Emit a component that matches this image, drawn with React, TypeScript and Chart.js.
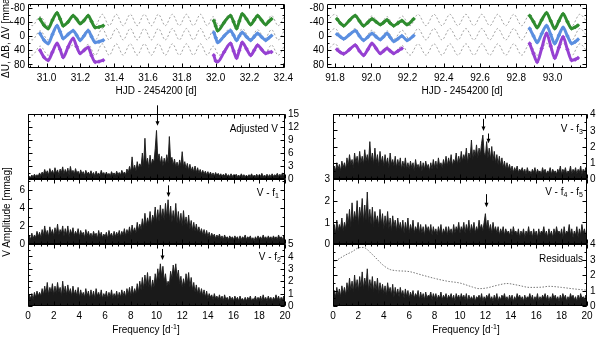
import React, { useEffect, useRef } from "react";
import { Chart, registerables } from "chart.js";
Chart.register(...registerables);

const FONT_FAMILY = '"Liberation Sans", Arial, Helvetica, sans-serif';

// ---------- light curves (HJD - 2454200, mmag) ----------
const TL_SEG1_T = [30.961, 30.985, 31.009, 31.035, 31.062, 31.08, 31.098, 31.128, 31.157, 31.178, 31.198, 31.222, 31.246, 31.266, 31.287, 31.31, 31.335];
const TL_SEG1_V = [-48, -30, -21, -45, -65, -48, -29, -40, -57, -47, -35, -44, -57, -41, -24, -25, -29];
const TL_SEG1_B = [-7, 12, 21, -5, -29, -12, 7, -5, -15, -2, 12, -1, -15, 2, 18, 16, 12];
const TL_SEG1_U = [40, 60, 68, 45, 21, 38, 60, 30, 7, 30, 49, 40, 32, 55, 73, 72, 68];
const TL_SEG2_T = [31.989, 32.0, 32.012, 32.05, 32.088, 32.106, 32.124, 32.14, 32.157, 32.182, 32.207, 32.228, 32.248, 32.272, 32.296, 32.313, 32.33];
const TL_SEG2_V = [-43, -28, -15, -38, -57, -40, -21, -42, -62, -48, -32, -45, -57, -44, -32, -40, -48];
const TL_SEG2_B = [-10, 5, 18, 0, -15, -2, 12, 0, -10, 2, 12, 2, -7, 3, 12, 6, -1];
const TL_SEG2_U = [54, 70, 72, 45, 21, 42, 62, 40, 18, 36, 54, 40, 26, 38, 49, 46, 45];

const TR_SEG1_T = [91.811, 91.83, 91.848, 91.88, 91.912, 91.935, 91.958, 91.981, 92.004, 92.027, 92.05, 92.068, 92.087, 92.105, 92.124, 92.147, 92.169, 92.197, 92.234];
const TR_SEG1_V = [-48, -36, -29, -44, -57, -42, -29, -38, -48, -40, -32, -38, -45, -36, -29, -36, -43, -32, -48];
const TR_SEG1_B = [-5, 2, 8, -4, -15, 0, 12, 3, -7, 2, 10, 2, -7, 4, 15, 8, 0, 12, -1];
const TR_SEG1_U = [38, 46, 50, 38, 26, 42, 54, 38, 21, 35, 49, 42, 35, 42, 49, 42, 35];
const TR_SEG2_T = [92.874, 92.895, 92.915, 92.94, 92.967, 92.99, 93.012, 93.035, 93.058, 93.082, 93.105, 93.125, 93.14];
const TR_SEG2_V = [-57, -40, -24, -45, -65, -42, -21, -42, -62, -40, -21, -25, -30];
const TR_SEG2_B = [-21, 0, 18, -6, -29, -4, 21, -2, -24, 0, 21, 16, 10];
const TR_SEG2_U = [21, 50, 73, 35, -7, 28, 62, 32, 3, 38, 68, 66, 62];

// model (grey dashed) curve: extrema, normalised
const TL_MODEL_T = [30.89, 30.915, 30.962, 31.009, 31.062, 31.1, 31.157, 31.198, 31.246, 31.288,
  31.329, 31.37, 31.412, 31.453, 31.495, 31.536, 31.578, 31.62, 31.661, 31.702,
  31.744, 31.785, 31.827, 31.868, 31.91, 31.95, 31.985, 32.02, 32.085, 32.122,
  32.157, 32.205, 32.248, 32.29, 32.33, 32.37, 32.41];
const TL_MODEL_V = [0.6, 1, -0.6, 1, -1, 0.8, -0.8, 0.7, -0.9, 1,
  -1, 1, -1, 1, -1, 1, -1, 1, -1, 1,
  -1, 1, -1, 1, -1, 1, -0.6, 1, -1, 1,
  -1, 0.8, -0.8, 0.8, -0.8, 1, -0.9];
const TR_MODEL_T = [91.756, 91.8, 91.848, 91.912, 91.958, 92.004, 92.05, 92.087, 92.124, 92.17,
  92.214, 92.258, 92.302, 92.346, 92.39, 92.434, 92.478, 92.522, 92.566, 92.61,
  92.654, 92.698, 92.742, 92.786, 92.83, 92.874, 92.915, 92.967, 93.012, 93.058,
  93.105, 93.15, 93.19];
const TR_MODEL_V = [0.2, -1, 1, -1, 1, -0.7, 0.8, -0.6, 0.9, -0.7,
  1, -1, 1, -1, 1, -1, 1, -1, 1, -1,
  1, -1, 1, -1, 1, -1, 1, -1.1, 1.1, -1.1,
  1.1, -1, 0.3];
const MODEL_AMP = 16;
const MODEL_OFFSET_V = -45;
const MODEL_OFFSET_B = -5;
const MODEL_OFFSET_U = 38;

// ---------- amplitude spectra (mmag), frequency step 0.1 d^-1 from 0 to 20 ----------
const FREQ_STEP = 0.1;
const AMP_ADJUSTED_V = [
  0.3,0.6,0.4,0.9,0.5,1.1,0.6,1.0,0.7,1.4,
  0.8,1.6,1.0,2.2,1.2,1.9,0.9,2.4,1.3,2.0,
  1.1,2.6,1.4,2.1,1.0,2.3,1.5,2.8,1.2,2.2,
  1.3,2.5,1.0,2.9,1.4,2.0,1.1,2.4,1.3,1.8,
  0.9,2.1,1.2,1.7,0.8,2.0,1.1,1.6,0.9,1.9,
  1.0,1.5,0.7,1.8,1.0,1.4,0.8,2.0,1.1,1.5,
  0.8,1.6,0.9,1.3,0.7,1.7,1.0,1.4,0.8,1.8,
  1.0,1.5,0.9,2.0,1.2,1.6,1.0,2.3,1.4,2.9,
  1.6,5.1,2.0,3.2,1.8,4.0,2.4,3.5,2.8,6.0,
  3.0,9.4,3.5,4.8,2.6,5.5,3.2,4.6,3.8,7.0,
  11.2,4.5,5.8,3.5,5.2,3.0,4.8,3.4,5.6,3.8,
  9.8,4.2,5.0,3.2,4.6,2.8,3.9,2.6,4.4,3.0,
  6.3,2.8,4.0,2.4,3.6,2.0,3.4,1.9,2.8,1.6,
  3.0,1.5,2.6,1.4,2.2,1.2,2.0,1.1,1.8,1.0,
  1.7,0.9,1.6,0.8,1.4,0.7,1.5,0.8,1.3,0.7,
  1.2,0.6,1.1,0.7,1.3,0.6,1.0,0.5,1.2,0.6,
  1.0,0.5,1.1,0.6,0.9,0.5,1.2,0.6,1.0,0.5,
  0.9,0.5,1.0,0.6,1.2,0.5,0.9,0.6,1.1,0.5,
  1.0,0.6,1.3,0.5,0.9,0.6,1.1,0.5,1.0,0.6,
  1.2,0.6,1.0,0.7,1.3,0.6,1.1,0.7,1.4,0.8,
  1.0];
const AMP_MINUS_F1 = [
  0.4,0.9,0.5,1.2,0.6,1.0,0.7,1.4,0.8,1.3,
  0.7,1.6,0.9,2.0,1.0,1.5,0.8,1.9,1.1,1.6,
  0.9,1.8,1.1,2.2,1.0,1.6,1.2,2.0,0.9,1.7,
  1.0,2.0,0.8,1.6,1.1,1.8,0.9,1.4,1.0,1.7,
  0.8,1.5,1.0,1.3,0.7,1.6,0.9,1.4,0.8,1.2,
  0.7,1.4,0.9,1.2,0.6,1.5,0.8,1.3,0.7,1.1,
  0.8,1.3,0.6,1.5,0.9,1.2,0.7,1.4,0.8,1.3,
  0.9,1.5,0.8,1.4,1.0,1.7,0.9,1.6,1.1,1.9,
  1.0,2.1,1.3,1.8,1.2,2.4,1.5,2.2,1.6,2.8,
  1.8,3.4,2.0,2.9,2.2,3.6,2.1,3.2,2.6,4.1,
  2.4,3.8,2.5,4.3,2.8,3.9,2.6,4.5,2.9,4.9,
  2.7,4.2,2.4,3.7,2.6,4.5,2.3,3.6,2.2,3.4,
  2.0,3.7,2.1,3.0,1.9,3.2,1.7,2.6,1.5,2.4,
  1.4,2.2,1.3,1.9,1.2,1.7,1.0,1.6,0.9,1.5,
  0.8,1.3,0.7,1.2,0.8,1.1,0.6,1.0,0.7,1.1,
  0.6,0.9,0.5,1.0,0.6,0.8,0.5,0.9,0.6,0.8,
  0.5,0.9,0.6,0.8,0.4,0.9,0.5,0.8,0.6,1.0,
  0.5,0.8,0.6,0.9,0.5,0.7,0.4,0.8,0.5,0.9,
  0.6,0.8,0.5,1.0,0.6,0.8,0.5,0.9,0.6,0.8,
  0.5,0.9,0.6,0.8,0.5,1.0,0.6,0.8,0.5,0.9,
  0.6];
const AMP_MINUS_F2 = [
  0.5,0.9,0.6,1.0,0.5,1.1,0.7,1.2,0.8,1.1,
  0.8,1.4,0.9,1.6,1.0,1.9,0.9,1.5,1.1,1.8,
  0.9,1.6,1.0,1.9,1.1,1.5,0.8,2.0,1.0,1.6,
  0.9,1.7,1.0,1.4,0.8,1.6,0.9,1.3,0.8,1.5,
  0.7,1.3,0.8,1.1,0.7,1.4,0.8,1.2,0.6,1.3,
  0.7,1.2,0.6,1.4,0.8,1.1,0.7,1.3,0.6,1.0,
  0.7,1.2,0.6,1.1,0.7,1.3,0.6,1.0,0.7,1.2,
  0.6,1.1,0.7,1.3,0.8,1.2,0.7,1.4,0.9,1.5,
  0.8,1.6,0.9,1.4,1.0,1.8,1.1,2.0,1.3,2.3,
  1.4,2.5,1.6,2.7,1.5,2.4,1.3,2.1,1.5,2.6,
  1.9,3.0,2.2,3.4,2.4,3.2,2.0,2.6,1.6,2.0,
  1.7,2.8,2.2,3.3,2.6,3.4,2.3,2.9,1.8,2.4,
  1.5,2.2,1.6,2.6,1.8,2.7,1.5,2.3,1.3,1.9,
  1.1,1.7,1.0,1.5,0.9,1.4,0.8,1.3,0.7,1.2,
  0.6,1.0,0.7,0.9,0.5,1.0,0.6,0.8,0.5,0.9,
  0.5,0.8,0.4,0.9,0.5,0.7,0.4,0.8,0.5,0.7,
  0.4,0.8,0.5,0.7,0.4,0.8,0.5,0.6,0.4,0.7,
  0.4,0.7,0.5,0.8,0.4,0.6,0.5,0.8,0.4,0.7,
  0.5,0.8,0.4,0.9,0.5,0.7,0.4,0.8,0.5,0.7,
  0.4,0.7,0.5,0.9,0.5,0.8,0.4,0.7,0.5,0.8,
  0.5];
const AMP_MINUS_F3 = [
  0.4,0.8,0.5,1.0,0.6,0.9,0.5,1.1,0.7,1.0,
  0.6,1.3,0.8,1.5,0.9,1.2,0.7,1.6,1.0,1.4,
  0.8,1.7,1.0,1.4,0.9,1.8,1.1,1.5,1.0,2.3,
  1.1,1.6,0.9,1.9,1.0,1.5,0.8,1.7,1.0,1.4,
  0.8,1.5,0.9,1.3,0.7,1.6,0.9,1.2,0.8,1.4,
  0.7,1.2,0.8,1.3,0.6,1.1,0.7,1.3,0.6,1.0,
  0.6,1.1,0.7,1.0,0.5,1.2,0.7,0.9,0.6,1.1,
  0.5,1.0,0.6,1.1,0.7,0.9,0.5,1.0,0.6,1.2,
  0.7,1.1,0.6,1.3,0.8,1.0,0.7,1.2,0.8,1.4,
  0.8,1.3,0.9,1.5,0.8,1.2,1.0,1.6,0.9,1.4,
  1.0,1.7,1.1,1.5,1.2,1.9,1.0,1.6,1.3,2.4,
  1.2,1.8,1.4,2.1,1.3,1.9,1.5,2.2,2.7,1.6,
  1.4,2.3,1.3,1.9,1.2,2.0,1.1,1.7,1.0,1.5,
  0.9,1.4,0.8,1.3,0.7,1.1,0.6,1.0,0.6,0.9,
  0.5,0.8,0.4,0.7,0.5,0.8,0.4,0.6,0.5,0.7,
  0.4,0.6,0.3,0.7,0.4,0.5,0.3,0.6,0.4,0.7,
  0.3,0.6,0.4,0.5,0.3,0.7,0.4,0.6,0.3,0.5,
  0.4,0.7,0.3,0.6,0.4,0.5,0.3,0.6,0.4,0.8,
  0.3,0.6,0.4,0.7,0.3,0.5,0.4,0.8,0.3,0.6,
  0.4,0.7,0.3,0.6,0.4,0.8,0.3,0.6,0.4,0.7,
  0.4];
const AMP_MINUS_F4_F5 = [
  0.4,0.9,0.5,1.1,0.6,0.9,0.7,1.2,0.6,1.0,
  0.7,1.4,0.9,1.6,0.8,1.9,1.0,1.5,1.1,2.0,
  0.9,1.7,1.2,2.1,1.0,1.8,1.1,2.4,1.0,1.6,
  0.9,1.7,0.8,1.5,1.0,1.3,0.8,1.6,0.9,1.4,
  0.7,1.3,0.8,1.5,0.7,1.2,0.6,1.3,0.8,1.1,
  0.6,1.2,0.7,1.0,0.6,1.1,0.5,1.0,0.6,1.2,
  0.5,0.9,0.6,1.1,0.5,0.8,0.6,1.0,0.5,0.9,
  0.5,0.8,0.4,0.9,0.6,0.8,0.5,0.9,0.4,0.8,
  0.5,0.7,0.4,0.8,0.5,0.9,0.4,0.7,0.5,0.8,
  0.4,0.8,0.5,0.7,0.4,0.9,0.5,0.8,0.6,1.0,
  0.5,0.8,0.6,1.0,0.5,0.9,0.6,1.1,0.5,0.9,
  0.6,1.0,0.5,0.8,0.6,1.1,0.7,0.9,0.6,1.0,
  1.4,0.7,1.1,0.6,0.9,0.5,1.0,0.6,0.8,0.5,
  0.8,0.4,0.7,0.5,0.8,0.4,0.7,0.5,0.6,0.4,
  0.7,0.4,0.8,0.5,0.6,0.4,0.7,0.3,0.6,0.4,
  0.7,0.3,0.6,0.4,0.8,0.4,0.6,0.3,0.7,0.4,
  0.6,0.3,0.7,0.4,0.6,0.5,0.8,0.4,0.6,0.3,
  0.7,0.4,0.6,0.3,0.7,0.4,0.8,0.5,0.6,0.4,
  0.7,0.3,0.8,0.4,0.6,0.5,0.9,0.4,0.7,0.3,
  0.6,0.4,0.8,0.3,0.7,0.4,0.9,0.5,0.7,0.4,
  0.6];
const AMP_RESIDUALS = [
  0.5,1.0,0.6,1.2,0.7,1.1,0.6,1.3,0.8,1.2,
  0.7,1.5,0.9,1.8,1.0,1.6,0.9,2.0,1.1,1.7,
  1.0,1.9,1.2,2.2,1.1,1.8,1.3,2.4,1.0,1.7,
  1.1,1.9,0.9,1.6,1.0,1.8,0.8,1.5,0.9,1.4,
  0.8,1.3,0.7,1.5,0.9,1.2,0.7,1.4,0.6,1.2,
  0.7,1.1,0.6,1.2,0.7,1.0,0.5,1.1,0.6,1.0,
  0.5,0.9,0.6,1.0,0.5,0.8,0.6,1.0,0.4,0.9,
  0.5,0.8,0.4,0.9,0.5,0.7,0.6,0.9,0.4,0.8,
  0.5,0.8,0.4,0.7,0.5,0.9,0.4,0.7,0.5,0.8,
  0.4,0.7,0.5,0.8,0.4,0.7,0.3,0.8,0.5,0.7,
  0.4,0.8,0.5,0.7,0.4,0.8,0.3,0.7,0.4,0.6,
  0.4,0.7,0.3,0.6,0.5,0.7,0.4,0.8,0.3,0.6,
  0.4,0.7,0.5,0.8,0.4,0.6,0.3,0.7,0.4,0.8,
  0.3,0.6,0.4,0.7,0.5,0.8,0.4,0.6,0.3,0.7,
  0.4,0.7,0.3,0.6,0.4,0.8,0.5,0.7,0.4,0.6,
  0.3,0.7,0.4,0.6,0.5,0.8,0.4,0.7,0.3,0.6,
  0.4,0.8,0.3,0.6,0.4,0.7,0.5,0.8,0.4,0.7,
  0.3,0.6,0.4,0.8,0.5,0.7,0.4,0.6,0.3,0.7,
  0.4,0.8,0.5,0.7,0.3,0.6,0.4,0.8,0.5,0.7,
  0.4,0.6,0.3,0.7,0.4,0.8,0.5,0.6,0.4,0.7,
  0.5];
// significance (dotted) curve in the residual panel
const SIG_F = [0, 1, 1.5, 2, 2.4, 3, 4, 4.5, 5, 6, 7, 8, 9, 10, 11, 11.5, 12, 13, 13.7, 14.5, 15.5, 16.5, 17, 18, 19, 20];
const SIG_A = [2.8, 3.3, 3.5, 3.75, 3.78, 3.4, 2.6, 2.35, 2.28, 2.22, 2.0, 1.78, 1.6, 1.48, 1.22, 1.12, 1.15, 1.35, 1.45, 1.35, 1.2, 1.22, 1.27, 1.2, 1.1, 1.02];

// ---------- ticks & arrows ----------
const TL_X_TICKS = [31.0, 31.2, 31.4, 31.6, 31.8, 32.0, 32.2, 32.4];
const TR_X_TICKS = [91.8, 92.0, 92.2, 92.4, 92.6, 92.8, 93.0];
const LC_Y_TICKS = [-80, -40, 0, 40, 80];
const FREQ_TICKS = [0, 2, 4, 6, 8, 10, 12, 14, 16, 18, 20];
const ADJ_Y_TICKS = [0, 3, 6, 9, 12, 15];
const F1_Y_TICKS = [0, 2, 4, 6];
const F2_Y_TICKS = [0, 1, 2, 3, 4, 5];
const F3_Y_TICKS = [0, 1, 2, 3, 4];
const F45_Y_TICKS = [0, 1, 2, 3];
const RES_Y_TICKS = [0, 1, 2, 3, 4];

const ARROWS_ADJ = [{ f: 10.0, from: 17, to: 12.3 }];
const ARROWS_F1 = [{ f: 10.9, from: 6.5, to: 5.2 }];
const ARROWS_F2 = [{ f: 10.4, from: 4.6, to: 3.7 }];
const ARROWS_F3 = [{ f: 11.8, from: 3.7, to: 2.95 }, { f: 12.2, from: 2.8, to: 2.2 }];
const ARROWS_F45 = [{ f: 12.05, from: 2.3, to: 1.7 }];

const COLOR_V = "#2f8c2f";
const COLOR_B = "#5b8fe0";
const COLOR_U = "#9641d2";

// ---------- dataset builders ----------
const seg = (t: number[], v: number[], color: string) => ({
  data: v.map((y, i) => ({ x: t[i], y })),
  borderColor: color,
  borderWidth: 3,
  pointRadius: 2.2,
  pointStyle: "rectRot",
  pointBorderWidth: 0,
  pointBackgroundColor: color,
  cubicInterpolationMode: "monotone",
  fill: false,
});
const model = (t: number[], v: number[], off: number) => ({
  data: t.map((x, i) => ({ x, y: off + MODEL_AMP * v[i] })),
  borderColor: "#8c8c8c",
  borderWidth: 0.8,
  borderDash: [2, 2],
  pointRadius: 0,
  cubicInterpolationMode: "monotone",
  fill: false,
});
const spec = (arr: number[]) => ({
  data: arr.map((y, i) => ({ x: Math.round(i * FREQ_STEP * 100) / 100, y })),
  borderColor: "rgba(30,30,30,0.95)",
  borderWidth: 1,
  backgroundColor: "#1a1a1a",
  fill: "origin",
  pointRadius: 0,
  tension: 0,
});
const sigLine = {
  data: SIG_F.map((x, i) => ({ x, y: SIG_A[i] })),
  borderColor: "#777",
  borderWidth: 1,
  borderDash: [1.5, 1.5],
  pointRadius: 0,
  cubicInterpolationMode: "monotone",
  fill: false,
};

type AxisSpec = {
  min: number; max: number; ticks: number[]; minor: number; labels: boolean;
  pos?: string; reverse?: boolean; fmt?: (v: number) => string;
};
type PanelSpec = { area: number[]; x: AxisSpec; y: AxisSpec; datasets: any[]; arrows: any[] };

const freqX = (labels: boolean): AxisSpec => ({ min: 0, max: 20, ticks: FREQ_TICKS, minor: 0.5, labels });

const PANELS: PanelSpec[] = [
  {
    area: [28, 3, 285, 68],
    x: { min: 30.89, max: 32.41, ticks: TL_X_TICKS, minor: 0.05, labels: true, fmt: (v) => v.toFixed(1) },
    y: { min: -90, max: 90, reverse: true, ticks: LC_Y_TICKS, minor: 20, labels: true, pos: "left" },
    datasets: [
      seg(TL_SEG1_T, TL_SEG1_V, COLOR_V), seg(TL_SEG2_T, TL_SEG2_V, COLOR_V),
      seg(TL_SEG1_T, TL_SEG1_B, COLOR_B), seg(TL_SEG2_T, TL_SEG2_B, COLOR_B),
      seg(TL_SEG1_T, TL_SEG1_U, COLOR_U), seg(TL_SEG2_T, TL_SEG2_U, COLOR_U),
      model(TL_MODEL_T, TL_MODEL_V, MODEL_OFFSET_V),
      model(TL_MODEL_T, TL_MODEL_V, MODEL_OFFSET_B),
      model(TL_MODEL_T, TL_MODEL_V, MODEL_OFFSET_U),
    ],
    arrows: [],
  },
  {
    area: [327, 3, 587, 68],
    x: { min: 91.756, max: 93.19, ticks: TR_X_TICKS, minor: 0.05, labels: true, fmt: (v) => v.toFixed(1) },
    y: { min: -90, max: 90, reverse: true, ticks: LC_Y_TICKS, minor: 20, labels: true, pos: "left" },
    datasets: [
      seg(TR_SEG1_T, TR_SEG1_V, COLOR_V), seg(TR_SEG2_T, TR_SEG2_V, COLOR_V),
      seg(TR_SEG1_T, TR_SEG1_B, COLOR_B), seg(TR_SEG2_T, TR_SEG2_B, COLOR_B),
      seg(TR_SEG1_T, TR_SEG1_U, COLOR_U), seg(TR_SEG2_T, TR_SEG2_U, COLOR_U),
      model(TR_MODEL_T, TR_MODEL_V, MODEL_OFFSET_V),
      model(TR_MODEL_T, TR_MODEL_V, MODEL_OFFSET_B),
      model(TR_MODEL_T, TR_MODEL_V, MODEL_OFFSET_U),
    ],
    arrows: [],
  },
  {
    area: [28, 114, 285, 179], x: freqX(false),
    y: { min: 0, max: 15, ticks: ADJ_Y_TICKS, minor: 1.5, labels: true, pos: "right" },
    datasets: [spec(AMP_ADJUSTED_V)], arrows: ARROWS_ADJ,
  },
  {
    area: [28, 179, 285, 244], x: freqX(false),
    y: { min: 0, max: 7.2, ticks: F1_Y_TICKS, minor: 1, labels: true, pos: "left" },
    datasets: [spec(AMP_MINUS_F1)], arrows: ARROWS_F1,
  },
  {
    area: [28, 244, 285, 306], x: freqX(true),
    y: { min: 0, max: 5, ticks: F2_Y_TICKS, minor: 0.5, labels: true, pos: "right" },
    datasets: [spec(AMP_MINUS_F2)], arrows: ARROWS_F2,
  },
  {
    area: [333, 114, 587, 179], x: freqX(false),
    y: { min: 0, max: 4, ticks: F3_Y_TICKS, minor: 0.5, labels: true, pos: "right" },
    datasets: [spec(AMP_MINUS_F3)], arrows: ARROWS_F3,
  },
  {
    area: [333, 179, 587, 244], x: freqX(false),
    y: { min: 0, max: 3, ticks: F45_Y_TICKS, minor: 0.5, labels: true, pos: "left" },
    datasets: [spec(AMP_MINUS_F4_F5)], arrows: ARROWS_F45,
  },
  {
    area: [333, 244, 587, 306], x: freqX(true),
    y: { min: 0, max: 4, ticks: RES_Y_TICKS, minor: 0.5, labels: true, pos: "right" },
    datasets: [sigLine, spec(AMP_RESIDUALS)], arrows: [],
  },
];

// ---------- frame / inward ticks / tick labels / arrows plugin ----------
const makeFramePlugin = (p: PanelSpec) => ({
  id: "frame",
  afterDraw(chart: any) {
    const { ctx, chartArea: a } = chart;
    const xs = chart.scales.x;
    const ys = chart.scales.y;
    const L = Math.round(a.left) + 0.5;
    const R = Math.round(a.right) - 0.5;
    const T = Math.round(a.top) + 0.5;
    const B = Math.round(a.bottom) - 0.5;
    ctx.save();
    ctx.strokeStyle = "#000";
    ctx.lineWidth = 1;
    ctx.setLineDash([]);
    ctx.beginPath();
    ctx.rect(L, T, R - L, B - T);
    const xTick = (v: number, len: number) => {
      const q = Math.round(xs.getPixelForValue(v)) + 0.5;
      ctx.moveTo(q, B); ctx.lineTo(q, B - len);
      ctx.moveTo(q, T); ctx.lineTo(q, T + len);
    };
    const yTick = (v: number, len: number) => {
      const q = Math.round(ys.getPixelForValue(v)) + 0.5;
      ctx.moveTo(L, q); ctx.lineTo(L + len, q);
      ctx.moveTo(R, q); ctx.lineTo(R - len, q);
    };
    const minor = (scale: any, step: number, fn: any) => {
      const k0 = Math.ceil(scale.min / step - 1e-6);
      const k1 = Math.floor(scale.max / step + 1e-6);
      for (let k = k0; k <= k1; k++) fn(k * step, 2);
    };
    minor(xs, p.x.minor, xTick);
    minor(ys, p.y.minor, yTick);
    p.x.ticks.forEach((v) => xTick(v, 4));
    p.y.ticks.forEach((v) => yTick(v, 4));
    ctx.stroke();

    // tick labels
    ctx.fillStyle = "#000";
    ctx.font = `10px ${FONT_FAMILY}`;
    if (p.x.labels) {
      ctx.textAlign = "center";
      ctx.textBaseline = "top";
      p.x.ticks.forEach((v) => {
        const q = xs.getPixelForValue(v);
        ctx.fillText(p.x.fmt ? p.x.fmt(v) : String(v), q, a.bottom + 5);
      });
    }
    if (p.y.labels) {
      ctx.textBaseline = "middle";
      const left = p.y.pos !== "right";
      ctx.textAlign = left ? "right" : "left";
      p.y.ticks.forEach((v) => {
        const q = ys.getPixelForValue(v);
        ctx.fillText(String(v), left ? a.left - 3 : a.right + 3, q + 0.5);
      });
    }

    // arrows
    p.arrows.forEach((ar: any) => {
      const px = Math.round(xs.getPixelForValue(ar.f)) + 0.5;
      const y0 = ys.getPixelForValue(ar.from);
      const y1 = ys.getPixelForValue(ar.to);
      ctx.beginPath();
      ctx.moveTo(px, y0);
      ctx.lineTo(px, y1 - 3);
      ctx.stroke();
      ctx.beginPath();
      ctx.moveTo(px - 2, y1 - 4.5);
      ctx.lineTo(px + 2, y1 - 4.5);
      ctx.lineTo(px, y1);
      ctx.closePath();
      ctx.fill();
    });
    ctx.restore();
  },
});

const scaleOpts = (s: AxisSpec, axis: "x" | "y") => ({
  type: "linear",
  min: s.min,
  max: s.max,
  reverse: !!s.reverse,
  position: axis === "x" ? "bottom" : s.pos,
  grid: { display: false, drawTicks: false },
  border: { display: false },
  ticks: { display: false },
  afterBuildTicks: (sc: any) => {
    sc.ticks = s.ticks.map((value) => ({ value }));
  },
  afterFit: (sc: any) => {
    if (axis === "x") sc.height = 0;
    else sc.width = 0;
  },
});

function Panel({ p }: { p: PanelSpec }) {
  const ref = useRef<HTMLCanvasElement>(null);
  useEffect(() => {
    const [l, t, r, b] = p.area;
    const chart = new Chart(ref.current as HTMLCanvasElement, {
      type: "line",
      data: { datasets: p.datasets },
      options: {
        responsive: false,
        animation: false,
        devicePixelRatio: 1,
        layout: { padding: { left: l, top: t, right: 600 - r, bottom: 337 - b } },
        plugins: { legend: { display: false }, tooltip: { enabled: false } },
        scales: { x: scaleOpts(p.x, "x"), y: scaleOpts(p.y, "y") },
      } as any,
      plugins: [makeFramePlugin(p) as any],
    } as any);
    return () => chart.destroy();
  }, []);
  return (
    <canvas
      ref={ref}
      width={600}
      height={337}
      style={{ position: "absolute", left: 0, top: 0, width: 600, height: 337 }}
    />
  );
}

const subStyle: React.CSSProperties = { fontSize: 7, position: "relative", top: 2 };
const supStyle: React.CSSProperties = { fontSize: 7, position: "relative", top: -4 };

function RLabel({ x, y, children }: { x: number; y: number; children: any }) {
  return (
    <div style={{ position: "absolute", right: 600 - x, top: y - 6, fontSize: 10, lineHeight: "12px", whiteSpace: "nowrap" }}>
      {children}
    </div>
  );
}
function CLabel({ x, y, rot, children }: { x: number; y: number; rot?: boolean; children: any }) {
  return (
    <div
      style={{
        position: "absolute", left: x, top: y, fontSize: 10, lineHeight: "12px", whiteSpace: "nowrap",
        transform: `translate(-50%, -50%)${rot ? " rotate(-90deg)" : ""}`,
      }}
    >
      {children}
    </div>
  );
}

export default function App() {
  return (
    <div
      style={{
        position: "fixed", left: 0, top: 0, width: 600, height: 337, background: "#fff",
        fontFamily: FONT_FAMILY, color: "#000", overflow: "hidden",
      }}
    >
      {PANELS.map((p, i) => (
        <Panel key={i} p={p} />
      ))}
      <RLabel x={278} y={129}>Adjusted V</RLabel>
      <RLabel x={279} y={193}>V - f<span style={subStyle}>1</span></RLabel>
      <RLabel x={281} y={257}>V - f<span style={subStyle}>2</span></RLabel>
      <RLabel x={583} y={129}>V - f<span style={subStyle}>3</span></RLabel>
      <RLabel x={583} y={192}>V - f<span style={subStyle}>4</span> - f<span style={subStyle}>5</span></RLabel>
      <RLabel x={583} y={259}>Residuals</RLabel>
      <CLabel x={156} y={91}>HJD - 2454200 [d]</CLabel>
      <CLabel x={462} y={91}>HJD - 2454200 [d]</CLabel>
      <CLabel x={146} y={330}>Frequency [d<span style={supStyle}>-1</span>]</CLabel>
      <CLabel x={466} y={330}>Frequency [d<span style={supStyle}>-1</span>]</CLabel>
      <CLabel x={6} y={34} rot>ΔU, ΔB, ΔV [mmag]</CLabel>
      <CLabel x={7} y={212} rot>V Amplitude [mmag]</CLabel>
    </div>
  );
}
